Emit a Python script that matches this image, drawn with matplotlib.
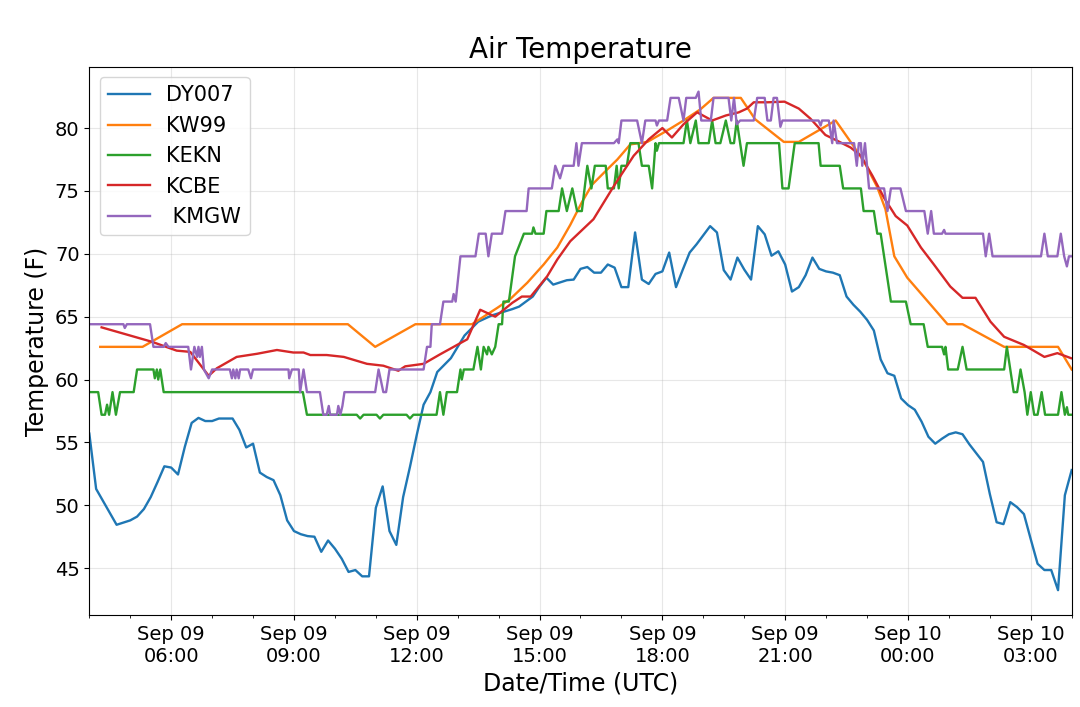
import datetime as dt
import matplotlib
matplotlib.use('Agg')
import matplotlib.pyplot as plt
import matplotlib.dates as mdates

start = dt.datetime(2019, 9, 9, 4, 0)  # minutes below are counted from here (UTC)

# DY007 - 10 minute data
dy007_min = [0, 10, 40, 60, 70, 80, 90, 100, 110, 120, 130, 140, 150, 160, 170, 180, 190, 210, 220, 230,
             240, 250, 260, 270, 280, 290, 300, 310, 320, 330, 340, 350, 360, 370, 380, 390, 400, 410, 420, 430,
             440, 450, 460, 470, 480, 490, 500, 510, 530, 550, 570, 590, 620, 630, 650, 660, 670, 680, 700, 710,
             720, 730, 740, 750, 760, 770, 780, 790, 800, 810, 820, 830, 840, 850, 860, 870, 880, 890, 910, 920,
             930, 940, 950, 960, 970, 980, 990, 1000, 1010, 1020, 1030, 1040, 1050, 1060, 1070, 1080, 1090, 1100, 1110, 1120,
             1130, 1140, 1150, 1160, 1170, 1180, 1190, 1200, 1210, 1220, 1230, 1240, 1250, 1260, 1270, 1280, 1290, 1300, 1310, 1320,
             1330, 1340, 1350, 1360, 1370, 1380, 1390, 1400, 1410, 1420, 1430, 1440]
dy007_temp = [55.7, 51.3, 48.45, 48.8, 49.1, 49.7, 50.65, 51.85, 53.1, 53.0, 52.45, 54.65, 56.55, 56.95, 56.7, 56.7, 56.9, 56.9, 56.0, 54.6,
              54.9, 52.6, 52.25, 52.0, 50.8, 48.8, 47.95, 47.7, 47.55, 47.5, 46.3, 47.2, 46.55, 45.75, 44.7, 44.85, 44.35, 44.35, 49.8, 51.5,
              47.95, 46.85, 50.65, 53.05, 55.6, 58.0, 59.0, 60.6, 61.7, 63.5, 64.6, 65.1, 65.6, 65.8, 66.6, 67.4, 68.1, 67.55, 67.9, 67.95,
              68.8, 68.95, 68.5, 68.5, 69.15, 68.9, 67.35, 67.35, 71.7, 67.95, 67.6, 68.4, 68.6, 70.1, 67.35, 68.75, 70.1, 70.75, 72.2, 71.7,
              68.7, 67.95, 69.7, 68.75, 67.95, 72.2, 71.55, 69.85, 70.2, 69.15, 67.0, 67.35, 68.3, 69.7, 68.8, 68.6, 68.5, 68.3, 66.6, 65.95,
              65.4, 64.75, 63.9, 61.6, 60.5, 60.3, 58.5, 57.97, 57.6, 56.65, 55.45, 54.9, 55.3, 55.65, 55.8, 55.65, 54.85, 54.15, 53.45, 50.9,
              48.65, 48.5, 50.25, 49.85, 49.3, 47.3, 45.35, 44.85, 44.85, 43.25, 50.8, 52.8]

# KW99
kw99_min = [16, 78, 136, 379, 419, 478, 561, 598, 617, 642, 666, 686, 705, 722, 737, 759, 774, 793, 818, 847,
            871, 896, 915, 955, 976, 1018, 1040, 1094, 1116, 1136, 1155, 1167, 1180, 1199, 1258, 1280, 1341, 1420, 1440]
kw99_temp = [62.6, 62.6, 64.4, 64.4, 62.6, 64.4, 64.4, 65.7, 66.4, 67.7, 69.15, 70.5, 72.3, 74.1, 75.5, 76.7, 77.5, 78.7, 78.9, 79.8,
             80.6, 81.5, 82.4, 82.4, 80.7, 78.9, 78.9, 80.6, 78.9, 77.3, 75.3, 73.55, 69.8, 68.1, 64.4, 64.4, 62.6, 62.6, 60.8]

# KEKN
kekn_min = [0, 13, 18, 23, 26, 29, 34, 39, 45, 65, 70, 94, 96, 99, 101, 104, 109, 313, 319, 392,
            397, 402, 421, 426, 431, 465, 470, 475, 509, 514, 519, 524, 539, 544, 546, 549, 563, 569, 574, 578,
            583, 585, 590, 595, 600, 605, 607, 615, 624, 637, 649, 651, 654, 666, 670, 688, 693, 700, 708, 715,
            722, 730, 736, 741, 757, 760, 769, 773, 776, 780, 788, 793, 805, 810, 820, 825, 830, 832, 835, 871,
            876, 881, 889, 893, 908, 913, 918, 925, 933, 940, 945, 949, 959, 964, 1011, 1016, 1025, 1034, 1069, 1072,
            1100, 1105, 1131, 1135, 1150, 1155, 1160, 1175, 1197, 1204, 1223, 1229, 1250, 1253, 1255, 1259, 1273, 1280, 1286, 1341,
            1345, 1355, 1360, 1365, 1371, 1375, 1380, 1385, 1390, 1396, 1401, 1420, 1425, 1430, 1433, 1435, 1440]
kekn_temp = [59, 59, 57.2, 57.2, 58.0, 57.2, 59, 57.2, 59, 59, 60.8, 60.8, 60.1, 60.8, 60.0, 60.8, 59, 59, 57.2, 57.2,
             56.9, 57.2, 57.2, 56.9, 57.2, 57.2, 56.9, 57.2, 57.2, 59, 57.2, 59, 59, 60.8, 60.0, 60.8, 60.8, 62.6, 60.8, 62.6,
             62.0, 62.6, 62.0, 62.6, 64.4, 64.4, 66.2, 66.2, 69.8, 71.6, 71.6, 72.1, 71.6, 71.6, 73.4, 73.4, 75.2, 73.4, 75.2, 73.4,
             73.4, 77, 75.2, 77, 77, 75.2, 75.2, 77, 75.2, 77, 77, 78.8, 78.8, 77, 77, 75.2, 78.8, 78.2, 78.8, 78.8,
             80.6, 78.8, 80.6, 78.8, 78.8, 80.6, 78.8, 78.8, 80.6, 78.8, 78.8, 80.6, 77, 78.8, 78.8, 75.2, 75.2, 78.8, 78.8, 77,
             77, 75.2, 75.2, 73.4, 73.4, 71.6, 71.6, 66.2, 66.2, 64.4, 64.4, 62.6, 62.6, 62.0, 62.6, 60.8, 60.8, 62.6, 60.8, 60.8,
             62.6, 59, 59, 60.8, 59, 57.2, 59, 57.2, 57.2, 59, 57.2, 57.2, 59, 57.2, 57.8, 57.2, 57.2]

# KCBE
kcbe_min = [18, 92, 128, 148, 175, 187, 216, 246, 275, 299, 314, 324, 348, 373, 407, 431, 453, 463, 490, 514,
            554, 573, 595, 620, 634, 647, 671, 686, 705, 739, 769, 798, 820, 840, 854, 871, 891, 913, 933, 952,
            964, 974, 994, 1019, 1040, 1057, 1079, 1096, 1116, 1131, 1148, 1165, 1182, 1199, 1219, 1238, 1262, 1280, 1299, 1321,
            1341, 1370, 1400, 1419, 1439]
kcbe_temp = [64.15, 63.0, 62.3, 62.2, 60.3, 60.9, 61.8, 62.05, 62.35, 62.15, 62.15, 61.95, 61.95, 61.8, 61.25, 61.1, 60.7, 61.05, 61.25, 62.0,
             63.2, 65.55, 65.0, 66.1, 66.6, 66.6, 68.2, 69.55, 71.0, 72.75, 75.4, 77.8, 79.1, 80.0, 79.25, 80.3, 81.25, 80.6, 81.0, 81.25,
             81.55, 82.05, 82.05, 82.1, 81.55, 80.75, 79.45, 79.0, 78.45, 77.8, 76.2, 74.45, 73.0, 72.25, 70.5, 69.15, 67.4, 66.5, 66.5, 64.6,
             63.4, 62.75, 61.8, 62.1, 61.7]

# KMGW
kmgw_min = [0, 50, 52, 55, 89, 94, 109, 112, 116, 145, 149, 154, 158, 160, 162, 165, 168, 175, 180, 206,
            209, 211, 214, 216, 219, 221, 233, 237, 240, 292, 293, 297, 307, 309, 314, 319, 338, 343, 348, 351,
            353, 363, 365, 368, 371, 374, 419, 424, 431, 435, 440, 490, 495, 500, 502, 514, 519, 532, 534, 537,
            544, 566, 571, 581, 585, 590, 605, 610, 641, 644, 678, 683, 690, 695, 710, 714, 717, 722, 769, 774,
            776, 780, 803, 810, 815, 830, 832, 835, 847, 852, 864, 871, 875, 889, 893, 897, 911, 915, 937, 941,
            945, 949, 954, 974, 979, 990, 994, 999, 1003, 1008, 1013, 1016, 1069, 1072, 1074, 1084, 1089, 1091, 1096, 1121,
            1125, 1128, 1131, 1133, 1137, 1143, 1165, 1170, 1175, 1189, 1197, 1224, 1229, 1234, 1238, 1250, 1253, 1255, 1310, 1314,
            1319, 1324, 1395, 1400, 1405, 1419, 1424, 1429, 1433, 1436, 1440]
kmgw_temp = [64.4, 64.4, 64.1, 64.4, 64.4, 62.6, 62.6, 62.9, 62.6, 62.6, 60.8, 62.6, 61.8, 62.6, 61.8, 62.6, 60.8, 60.1, 60.8, 60.8,
             60.1, 60.8, 60.1, 60.8, 60.1, 60.8, 60.8, 60.1, 60.8, 60.8, 60.1, 60.8, 60.8, 59, 60.8, 59, 59, 57.2, 57.2, 57.9,
             57.2, 57.2, 57.9, 57.2, 57.9, 59, 59, 60.8, 59, 59, 60.8, 60.8, 62.6, 62.6, 64.4, 64.4, 66.2, 66.2, 66.8, 66.2,
             69.8, 69.8, 71.6, 71.6, 69.8, 71.6, 71.6, 73.4, 73.4, 75.2, 75.2, 77, 76.0, 77, 77, 78.8, 77, 78.8, 78.8, 79.1,
             78.8, 80.6, 80.6, 78.8, 80.6, 80.6, 80.2, 80.6, 80.6, 82.4, 82.4, 80.6, 82.4, 82.4, 82.9, 80.6, 80.6, 82.4, 82.4, 80.6,
             82.4, 80.3, 80.6, 80.6, 82.4, 82.4, 80.6, 80.6, 82.4, 82.4, 80.1, 80.6, 80.6, 80.2, 80.6, 80.6, 78.8, 80.6, 78.8, 78.8,
             77, 78.8, 78.8, 77, 78.8, 75.2, 75.2, 73.4, 75.2, 75.2, 73.4, 73.4, 71.6, 73.4, 71.6, 71.6, 71.9, 71.6, 71.6, 69.8,
             71.6, 69.8, 69.8, 71.6, 69.8, 69.8, 71.6, 69.8, 69.0, 69.8, 69.8]

stations = ['DY007', 'KW99', 'KEKN', 'KCBE', ' KMGW']
series = [(dy007_min, dy007_temp), (kw99_min, kw99_temp), (kekn_min, kekn_temp),
          (kcbe_min, kcbe_temp), (kmgw_min, kmgw_temp)]


def to_times(mins):
    return [start + dt.timedelta(minutes=m) for m in mins]


fig = plt.figure(figsize=(10.8, 7.07), dpi=100)
ax = fig.add_axes([0.0827, 0.130, 0.9096, 0.7757])

for name, (mins, temps) in zip(stations, series):
    ax.plot(to_times(mins), temps, label=name, linewidth=1.7)

ax.set_xlim(start, start + dt.timedelta(hours=24))
ax.xaxis.set_major_locator(mdates.HourLocator(byhour=range(0, 24, 3)))
ax.xaxis.set_minor_locator(mdates.HourLocator())
ax.xaxis.set_major_formatter(mdates.DateFormatter('%b %d\n%H:%M'))
ax.tick_params(axis='both', which='major', labelsize=14)
ax.grid(True, alpha=0.3)

ax.set_title('Air Temperature', fontsize=20)
ax.set_xlabel('Date/Time (UTC)', fontsize=17)
ax.set_ylabel('Temperature (F)', fontsize=17)
ax.legend(loc='upper left', fontsize=15)

fig.savefig('out.png', dpi=100)
